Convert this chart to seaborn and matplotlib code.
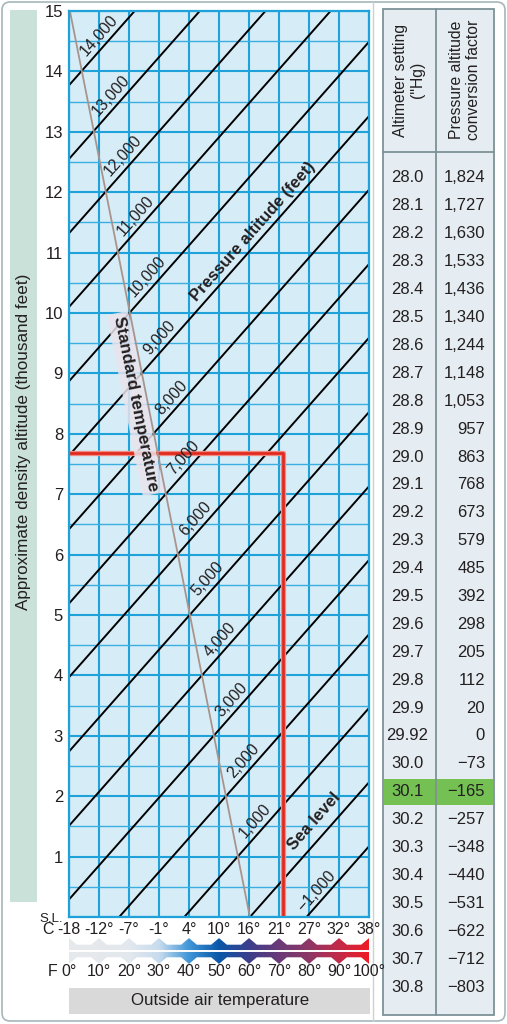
import numpy as np
import pandas as pd
import matplotlib
matplotlib.use("Agg")
import matplotlib.pyplot as plt
import seaborn as sns
from matplotlib.patches import Rectangle, FancyBboxPatch, Polygon
from matplotlib.colors import LinearSegmentedColormap

# ---- data ----
temp_f = [0, 10, 20, 30, 40, 50, 60, 70, 80, 90, 100]
temp_c_labels = ['-18', '-12°', '-7°', '-1°', '4°', '10°', '16°', '21°', '27°', '32°', '38°']
temp_f_labels = ['0°', '10°', '20°', '30°', '40°', '50°', '60°', '70°', '80°', '90°', '100°']

# pressure altitude lines: density altitude (thousand ft) at 0 °F and at 100 °F
pa_ft = [-1000, 0, 1000, 2000, 3000, 4000, 5000, 6000, 7000,
         8000, 9000, 10000, 11000, 12000, 13000, 14000]
da_at_0f = [-4.45, -3.39, -2.16, -0.94, 0.29, 1.51, 2.74, 3.97, 5.19,
            6.42, 7.64, 8.87, 10.10, 11.32, 12.55, 13.77]
da_at_100f = [1.17, 2.23, 3.46, 4.68, 5.91, 7.13, 8.36, 9.59, 10.81,
              12.04, 13.26, 14.49, 15.72, 16.94, 18.17, 19.39]

# standard temperature line
std_temp_f = [0.3, 60.3]
std_da = [15.0, 0.0]

# worked example (red line)
oat_example = 71.2
da_example = 7.68

altimeter = ['28.0', '28.1', '28.2', '28.3', '28.4', '28.5', '28.6', '28.7', '28.8', '28.9',
             '29.0', '29.1', '29.2', '29.3', '29.4', '29.5', '29.6', '29.7', '29.8', '29.9',
             '29.92', '30.0', '30.1', '30.2', '30.3', '30.4', '30.5', '30.6', '30.7', '30.8']
conversion = ['1,824', '1,727', '1,630', '1,533', '1,436', '1,340', '1,244', '1,148', '1,053', '957',
              '863', '768', '673', '579', '485', '392', '298', '205', '112', '20',
              '0', '−73', '−165', '−257', '−348', '−440', '−531', '−622', '−712', '−803']
highlight = '30.1'

bar_colors = ['#e6e9ec', '#e5e9ed', '#e2e8ee', '#c8dcee', '#3f96d7', '#0b57a8',
              '#3b3e8c', '#6a3a78', '#8d3766', '#c22a48', '#ee1c25']

sns.set_theme(style='white')
plt.rcParams['font.family'] = ['Liberation Sans', 'DejaVu Sans']
ink = '#231f20'
grid_c = '#1fa2da'

W, H = 507, 1024
fig = plt.figure(figsize=(W / 100, H / 100), dpi=100)


def box(x0, y0, x1, y1):
    return [x0 / W, 1 - y1 / H, (x1 - x0) / W, (y1 - y0) / H]


# ---- background / frame (pixel coords) ----
bg = fig.add_axes([0, 0, 1, 1], zorder=0)
bg.set_xlim(0, W)
bg.set_ylim(H, 0)
bg.axis('off')
bg.add_patch(FancyBboxPatch((2, 2), 503, 1019, boxstyle='round,pad=0,rounding_size=8',
                            fc='white', ec='#a7b6ba', lw=1.2))
bg.plot([373, 373], [2, 1021], color='#c9d3d6', lw=1)
bg.add_patch(Rectangle((10, 10), 27, 892, fc='#c9e1d8', ec='none'))
bg.text(24, 442, 'Approximate density altitude (thousand feet)', rotation=90,
        ha='center', va='center', fontsize=12.3, color=ink)
bg.add_patch(Rectangle((69, 988), 301, 26, fc='#d9d9d9', ec='none'))
bg.text(220, 1001, 'Outside air temperature', ha='center', va='center', fontsize=12.2, color=ink)

# table
tab_edge = '#7d9298'
bg.add_patch(Rectangle((383, 9), 111, 1006, fc='#e5edf2', ec=tab_edge, lw=1.3))
row0, step = 178, 27.9
hi = altimeter.index(highlight)
bg.add_patch(Rectangle((383.7, row0 + hi * step - 13), 109.6, 26, fc='#74c052', ec='none'))
bg.plot([383, 494], [152, 152], color=tab_edge, lw=1.3)
bg.plot([436, 436], [9, 1015], color=tab_edge, lw=1.3)
bg.text(409, 80, 'Altimeter setting\n("Hg)', rotation=90, ha='center', va='center',
        multialignment='center', fontsize=11.3, color=ink, linespacing=1.1)
bg.text(465, 80, 'Pressure altitude\nconversion factor', rotation=90, ha='center', va='center',
        multialignment='center', fontsize=11.3, color=ink, linespacing=1.1)
for i, (a, c) in enumerate(zip(altimeter, conversion)):
    y = row0 + i * step
    bg.text(407, y, a, ha='center', va='center', fontsize=12, color=ink)
    bg.text(485, y, c, ha='right', va='center', fontsize=12, color=ink)

# ---- main chart ----
ax = fig.add_axes(box(69, 11, 369, 917), zorder=2)
ax.set_facecolor('#d6edf8')

rows = []
for p, a, b in zip(pa_ft, da_at_0f, da_at_100f):
    rows.append((p, 0, a))
    rows.append((p, 100, b))
lines = pd.DataFrame(rows, columns=['pa', 'oat_f', 'da'])
sns.lineplot(data=lines, x='oat_f', y='da', units='pa', estimator=None, color='black',
             lw=1.4, ax=ax, legend=False)

std = pd.DataFrame({'oat_f': std_temp_f, 'da': std_da})
sns.lineplot(data=std, x='oat_f', y='da', estimator=None, sort=False, color='#a8948c',
             lw=1.3, ax=ax, zorder=2.5)

red = pd.DataFrame({'oat_f': [oat_example, oat_example, 0], 'da': [0, da_example, da_example]})
sns.lineplot(data=red, x='oat_f', y='da', estimator=None, sort=False, color='#f08a80', lw=3.8, ax=ax)
sns.lineplot(data=red, x='oat_f', y='da', estimator=None, sort=False, color='#e0281e', lw=1.9, ax=ax)

ax.set_xlim(0, 100)
ax.set_ylim(0, 15)
ax.set_xlabel('')
ax.set_ylabel('')
ax.set_xticks(temp_f)
ax.set_xticklabels(temp_c_labels)
ax.set_yticks(range(16))
ax.set_yticklabels(['S.L.'] + [str(i) for i in range(1, 16)])
ax.set_yticks(np.arange(0.5, 15, 1), minor=True)
ax.grid(True, which='major', axis='both', color=grid_c, lw=1.5)
ax.grid(True, which='minor', axis='y', color='#3aaee0', lw=1.0)
ax.set_axisbelow(True)
ax.tick_params(which='both', length=0)
ax.tick_params(axis='y', labelsize=12, pad=4.3, labelcolor=ink)
ax.tick_params(axis='x', labelsize=11.5, pad=3.6, labelcolor=ink)
ax.get_yticklabels()[0].set_fontsize(9.5)
for sp in ax.spines.values():
    sp.set_color(grid_c)
    sp.set_linewidth(1.6)

ax.text(-7, -0.0143, 'C', transform=ax.get_xaxis_transform(), ha='center', va='center',
        fontsize=11.5, color=ink)
ax.text(-5.5, -0.0607, 'F', transform=ax.get_xaxis_transform(), ha='center', va='center',
        fontsize=11.5, color=ink)
for t, lab in zip(temp_f, temp_f_labels):
    ax.text(t, -0.0607, lab, transform=ax.get_xaxis_transform(), ha='center', va='center',
            fontsize=11.5, color=ink)


def screen_angle(slope):
    p0 = ax.transData.transform((0, 0))
    p1 = ax.transData.transform((1, slope))
    return np.degrees(np.arctan2(p1[1] - p0[1], p1[0] - p0[0]))


def line_label(text, a, b, t, d_px, **kw):
    s = (b - a) / 100
    ang = screen_angle(s)
    th = np.radians(ang)
    off = (-np.sin(th) * d_px * 0.72, np.cos(th) * d_px * 0.72)
    ax.annotate(text, (t, a + s * t), xytext=off, textcoords='offset points', rotation=ang,
                rotation_mode='anchor', ha='center', va='center', color=ink, **kw)


m_std = (std_da[1] - std_da[0]) / (std_temp_f[1] - std_temp_f[0])
for p, a, b in zip(pa_ft, da_at_0f, da_at_100f):
    s = (b - a) / 100
    if p >= 1000:
        t_cross = (std_da[0] - m_std * std_temp_f[0] - a) / (s - m_std)
        line_label(f'{p:,}', a, b, t_cross + 8.5, 10.5, fontsize=11.5)
    elif p == 0:
        line_label('Sea level', a, b, 85.6, 15, fontsize=12, fontweight='bold')
    else:
        line_label(f'−{-p:,}', a, b, 85, 9.5, fontsize=11.5)

i9 = pa_ft.index(9000)
line_label('Pressure altitude (feet)', da_at_0f[i9], da_at_100f[i9], 64, 10,
           fontsize=12, fontweight='bold')

std_ang = screen_angle(m_std)
t_std = std_temp_f[0] + (8.5 - std_da[0]) / m_std
ax.annotate('Standard temperature', (t_std, 8.5), xytext=(-9.0, 0), textcoords='offset points',
            rotation=std_ang, rotation_mode='anchor', ha='center', va='center',
            fontsize=12.3, fontweight='bold', color=ink, zorder=2.2,
            bbox=dict(boxstyle='round,pad=0.2', fc='#e9e3ec', ec='none', alpha=0.85))

# ---- temperature colour bar ----
bax = fig.add_axes(box(69, 936, 369, 966), zorder=2)
bax.set_xlim(0, 100)
bax.set_ylim(-1, 1)
bax.axis('off')
cmap = LinearSegmentedColormap.from_list('oat', list(zip(np.array(temp_f) / 100, bar_colors)))
img = bax.imshow(np.linspace(0, 1, 256).reshape(1, -1), extent=(0, 100, -1, 1), aspect='auto',
                 cmap=cmap)
w, b_, pk = 2.6, 0.42, 0.86
top = [(0, pk), (w, b_)]
for t in temp_f[1:-1]:
    top += [(t - w, b_), (t, pk), (t + w, b_)]
top += [(100 - w, b_), (100, pk)]
bottom = [(x, -y) for x, y in reversed(top)]
shape = Polygon(top + bottom, closed=True, transform=bax.transData, fc='none', ec='none')
bax.add_patch(shape)
img.set_clip_path(shape)
bax.axhline(0, color='white', lw=1.4)

fig.savefig('out.png', dpi=100)
